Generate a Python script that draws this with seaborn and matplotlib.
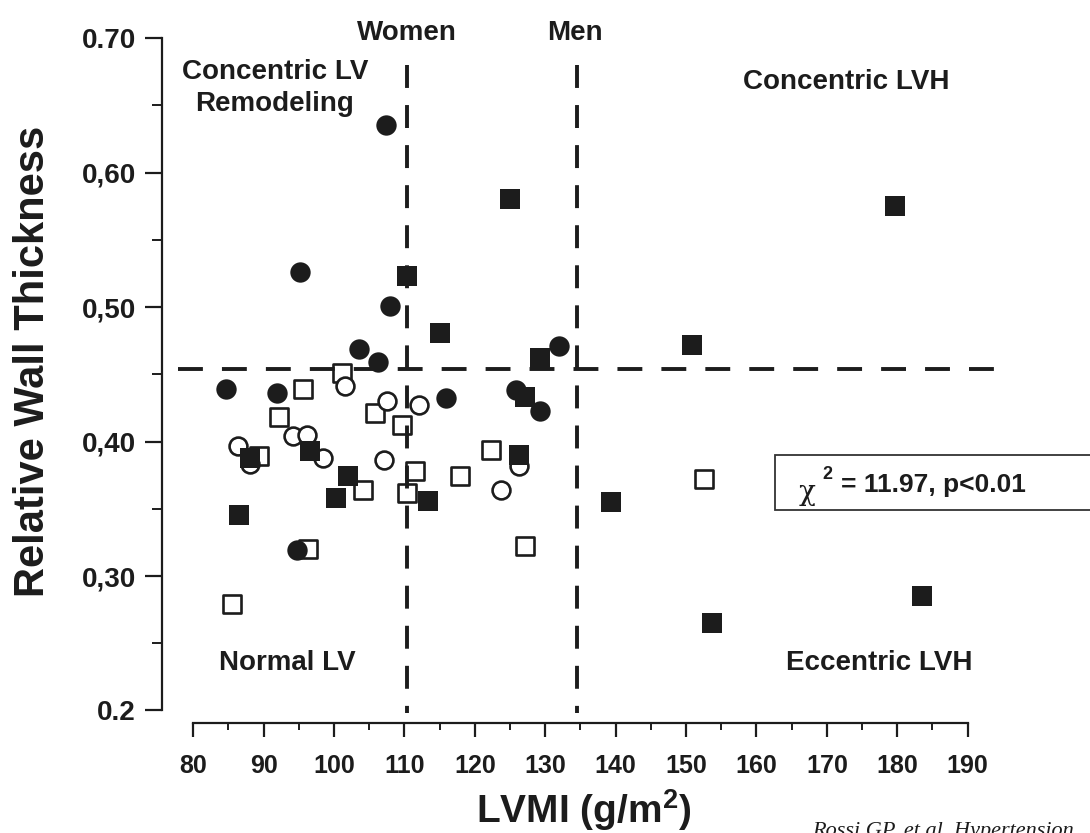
import matplotlib
matplotlib.use("Agg")
import matplotlib.pyplot as plt
from matplotlib.patches import Rectangle
import seaborn as sns
import pandas as pd

# ---------------- data (LVMI g/m^2, relative wall thickness) ----------------
filled_circle_x = [107.4, 95.2, 108.0, 103.6, 106.3, 132.0, 84.6, 91.9, 115.9, 125.9, 129.2, 94.7]
filled_circle_y = [0.635, 0.526, 0.501, 0.469, 0.459, 0.471, 0.439, 0.436, 0.432, 0.438, 0.423, 0.319]

filled_square_x = [125.0, 110.4, 115.0, 129.3, 127.1, 96.6, 88.1, 126.2, 102.0, 100.3, 113.4, 86.5,
                   150.8, 139.3, 183.5, 153.7, 179.7]
filled_square_y = [0.580, 0.523, 0.481, 0.462, 0.433, 0.393, 0.388, 0.390, 0.374, 0.358, 0.356, 0.345,
                   0.472, 0.355, 0.285, 0.265, 0.575]

open_square_x = [101.1, 95.6, 92.2, 89.3, 105.8, 109.6, 111.5, 104.1, 110.4, 117.9, 122.3, 96.3,
                 85.5, 127.1, 152.5]
open_square_y = [0.451, 0.439, 0.418, 0.389, 0.421, 0.412, 0.378, 0.364, 0.362, 0.374, 0.394, 0.320,
                 0.279, 0.322, 0.372]

open_circle_x = [101.6, 107.5, 112.0, 86.4, 88.1, 94.1, 96.2, 98.4, 107.1, 126.3, 123.7]
open_circle_y = [0.441, 0.430, 0.427, 0.397, 0.383, 0.404, 0.405, 0.388, 0.386, 0.382, 0.364]

rwt_cutoff = 0.454
women_cutoff = 110.3
men_cutoff = 134.5

x_ticks = [80, 90, 100, 110, 120, 130, 140, 150, 160, 170, 180, 190]
y_ticks = [0.2, 0.3, 0.4, 0.5, 0.6, 0.7]
y_tick_labels = ["0.2", "0,30", "0,40", "0,50", "0,60", "0.70"]

quadrant_labels = ["Concentric LV\nRemodeling", "Concentric LVH", "Normal LV", "Eccentric LVH"]
stat_text = "= 11.97, p<0.01"
caption = "Rossi GP, et al. Hypertension"

# ---------------- style ----------------
sns.set_theme(style="white")
plt.rcParams["font.family"] = ["Liberation Sans", "DejaVu Sans"]
plt.rcParams["font.weight"] = "bold"
plt.rcParams["mathtext.fontset"] = "custom"
plt.rcParams["mathtext.rm"] = "Liberation Sans:bold"
plt.rcParams["mathtext.it"] = "Liberation Sans:bold"
plt.rcParams["mathtext.bf"] = "Liberation Sans:bold"

INK = "#1c1c1c"

fig = plt.figure(figsize=(10.9, 8.33), dpi=100)
ax = fig.add_axes([0.14908, 0.13205, 0.76835, 0.84394])
ax.set_xlim(75.63, 194.59)
ax.set_ylim(0.1907, 0.7134)

groups = [
    ("open square", open_square_x, open_square_y, "s", 165, "white", 1.9),
    ("open circle", open_circle_x, open_circle_y, "o", 165, "white", 1.9),
    ("filled square", filled_square_x, filled_square_y, "s", 190, INK, 0),
    ("filled circle", filled_circle_x, filled_circle_y, "o", 215, INK, 0),
]
for name, xs, ys, mk, size, face, lw in groups:
    df = pd.DataFrame({"LVMI": xs, "RWT": ys})
    sns.scatterplot(data=df, x="LVMI", y="RWT", marker=mk, s=size, color=INK,
                    facecolor=face, edgecolor=INK, linewidth=lw, ax=ax, zorder=3,
                    legend=False)

# cut-off lines
ax.plot([77.8, 193.7], [rwt_cutoff, rwt_cutoff], color=INK, lw=2.8,
        dashes=(6.4, 4.9), zorder=4)
for xc in (women_cutoff, men_cutoff):
    ax.plot([xc, xc], [0.680, 0.198], color=INK, lw=2.8, dashes=(5.9, 4.4), zorder=4)

# axes styling
for side in ("top", "right"):
    ax.spines[side].set_visible(False)
for side in ("left", "bottom"):
    ax.spines[side].set_color(INK)
    ax.spines[side].set_linewidth(1.6)
ax.spines["left"].set_bounds(0.2, 0.7)
ax.spines["bottom"].set_bounds(80, 190)

ax.set_xticks(x_ticks)
ax.set_xticks([x + 5 for x in x_ticks[:-1]], minor=True)
ax.set_yticks(y_ticks)
ax.set_yticklabels(y_tick_labels)
ax.set_yticks([0.25, 0.35, 0.45, 0.55, 0.65], minor=True)
ax.tick_params(axis="x", which="major", direction="out", length=10, width=1.6,
               color=INK, labelsize=18, pad=12, labelcolor=INK, bottom=True)
ax.tick_params(axis="x", which="minor", direction="out", length=5, width=1.4,
               color=INK, bottom=True)
ax.tick_params(axis="y", which="major", direction="out", length=12, width=1.6,
               color=INK, labelsize=20, pad=7, labelcolor=INK, left=True)
ax.tick_params(axis="y", which="minor", direction="out", length=7, width=1.4,
               color=INK, left=True)
for lab in ax.get_xticklabels() + ax.get_yticklabels():
    lab.set_fontweight("bold")
ax.set_xlabel("")
ax.set_ylabel("")
ax.grid(False)

# axis titles
fig.text(584 / 1090, 1 - 810 / 833, r"LVMI (g/m$^{2}$)", ha="center", va="center",
         fontsize=28, fontweight="bold", color=INK)
fig.text(33 / 1090, 1 - 361 / 833, "Relative Wall Thickness", rotation=90,
         ha="center", va="center", fontsize=30, fontweight="bold", color=INK)

# annotations
tk = dict(fontsize=20, fontweight="bold", color=INK, ha="center", va="center")
ax.text(women_cutoff, 0.7037, "Women", clip_on=False, **tk)
ax.text(134.2, 0.7037, "Men", clip_on=False, **tk)
ax.text(91.6, 0.6630, quadrant_labels[0], linespacing=1.3, multialignment="center", **tk)
ax.text(172.7, 0.6675, quadrant_labels[1], **tk)
ax.text(93.3, 0.2353, quadrant_labels[2], **tk)
ax.text(177.4, 0.2353, quadrant_labels[3], **tk)

# statistics box
ax.add_patch(Rectangle((162.56, 0.3491), 46.0, 0.0409, facecolor="white",
                       edgecolor="#333333", lw=1.3, clip_on=False, zorder=5))
ax.text(167.2, 0.3620, "χ", fontsize=20, fontweight="normal", color=INK,
        family=["DejaVu Serif"], ha="center", va="center", zorder=6, clip_on=False)
ax.text(170.1, 0.3756, "2", fontsize=13, fontweight="bold", color=INK,
        ha="center", va="center", zorder=6, clip_on=False)
ax.text(172.0, 0.3677, stat_text, fontsize=19, fontweight="bold", color=INK,
        ha="left", va="center", zorder=6, clip_on=False)

# source caption (cut by the figure edge as in the original)
fig.text(812 / 1090, 1 - 822 / 833, caption, ha="left", va="top", fontsize=16,
         style="italic", fontweight="normal", family=["Liberation Serif", "DejaVu Serif"],
         color=INK)

fig.savefig("out.png", dpi=100)
